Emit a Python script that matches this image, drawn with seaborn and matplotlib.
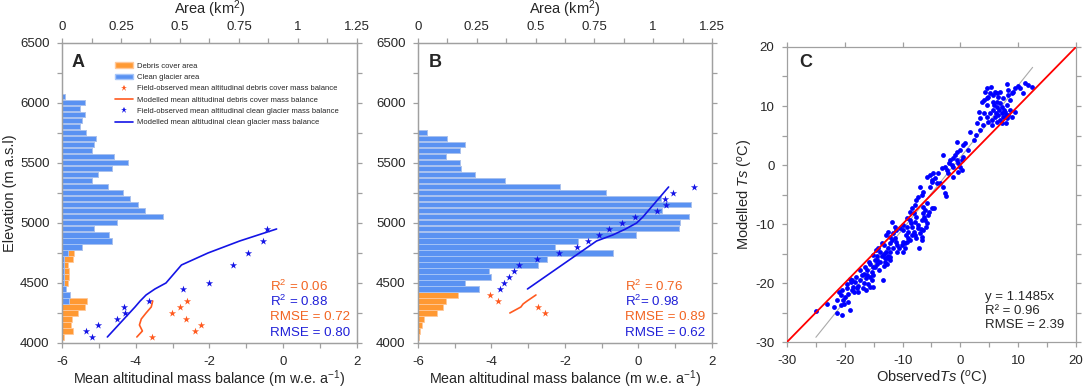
import numpy as np
import pandas as pd
import matplotlib
matplotlib.use("Agg")
import matplotlib.pyplot as plt
import seaborn as sns
from matplotlib.lines import Line2D
from matplotlib.patches import Patch

sns.set_theme(style="white")
plt.rcParams['font.family'] = ['Liberation Sans', 'DejaVu Sans']
plt.rcParams['mathtext.fontset'] = 'custom'
plt.rcParams['mathtext.rm'] = 'Liberation Sans'
plt.rcParams['mathtext.it'] = 'Liberation Sans:italic'
plt.rcParams['mathtext.bf'] = 'Liberation Sans:bold'
plt.rcParams['axes.unicode_minus'] = False

# --- panel A : elevation bands (m) and areas (km2)
elev_a = list(range(4050, 6051, 50))
clean_a = [0, 0, 0, 0, 0, 0,
           0.028, 0.032, 0.018, 0.007, 0.008, 0.008, 0.008, 0.007, 0.025,
           0.083, 0.213, 0.201, 0.137, 0.233,
           0.428, 0.353, 0.323, 0.288, 0.260,
           0.194, 0.126, 0.154, 0.210, 0.281,
           0.222, 0.127, 0.134, 0.145, 0.103,
           0.075, 0.085, 0.099, 0.075, 0.099, 0.014]
debris_a = [0.007, 0.047, 0.037, 0.041, 0.066, 0.099,
            0.078, 0.003, 0.0, 0.017, 0.020, 0.023, 0.017, 0.041, 0.026] + [0] * 26

obs_clean_elev_a = [4950, 4850, 4750, 4650, 4500, 4450, 4350, 4300, 4250, 4200, 4150, 4100, 4050]
obs_clean_mb_a = [-0.45, -0.54, -0.95, -1.36, -2.01, -2.73, -3.64, -4.31, -4.28, -4.51, -5.02, -5.34, -5.20]
obs_debris_elev_a = [4350, 4300, 4250, 4200, 4150, 4100, 4050]
obs_debris_mb_a = [-2.60, -2.81, -3.02, -2.63, -2.22, -2.39, -3.57]
mod_clean_elev_a = [4050, 4300, 4350, 4400, 4450, 4500, 4650, 4750, 4850, 4950]
mod_clean_mb_a = [-4.77, -4.02, -3.88, -3.72, -3.48, -3.18, -2.76, -2.04, -1.18, -0.18]
mod_debris_elev_a = [4050, 4100, 4150, 4200, 4250, 4300, 4350]
mod_debris_mb_a = [-3.97, -3.82, -3.90, -3.85, -3.72, -3.58, -3.54]

# --- panel B
elev_b = list(range(4050, 5751, 50))
clean_b = [0] * 8 + [0.260, 0.200, 0.310, 0.303, 0.511,
                     0.548, 0.831, 0.582, 0.682, 0.928,
                     1.111, 1.115, 1.151, 1.037, 1.159,
                     1.034, 0.798, 0.602, 0.372, 0.241,
                     0.182, 0.178, 0.118, 0.178, 0.199,
                     0.125, 0.040]
debris_b = [0.006, 0.007, 0.018, 0.027, 0.080, 0.107, 0.119, 0.172] + [0] * 27

obs_clean_elev_b = [5300, 5250, 5200, 5150, 5100, 5050, 5000, 4950, 4900, 4850,
                    4800, 4750, 4700, 4650, 4600, 4550, 4500, 4450]
obs_clean_mb_b = [1.51, 0.94, 0.72, 0.75, 0.50, -0.09, -0.44, -0.80, -1.07, -1.38,
                  -1.68, -2.16, -2.77, -3.26, -3.39, -3.53, -3.66, -3.78]
obs_debris_elev_b = [4400, 4350, 4300, 4250]
obs_debris_mb_b = [-4.04, -3.82, -2.74, -2.55]
mod_clean_elev_b = [4450, 4850, 4900, 4950, 5000, 5050, 5300]
mod_clean_mb_b = [-3.02, -1.14, -0.70, -0.35, -0.05, 0.12, 0.82]
mod_debris_elev_b = [4250, 4300, 4325, 4350, 4400]
mod_debris_mb_b = [-3.50, -3.20, -3.14, -3.03, -2.79]

stats_a = ["R$^2$ = 0.06", "R$^2$ = 0.88", "RMSE = 0.72", "RMSE = 0.80"]
stats_b = ["R$^2$ = 0.76", "R$^2$= 0.98", "RMSE = 0.89", "RMSE = 0.62"]

# --- panel C : observed vs modelled surface temperature (degC)
obs_ts = [-25.0, -23.0, -21.9, -21.35, -20.4, -20.7, -20.1, -19.1, -21.0, -20.5, -20.7, -20.0, -19.4,
          -19.6, -19.1, -18.7, -18.2, -18.5, -17.9, -18.8, -18.4, -17.7, -17.4, -17.1, -17.4, -16.7,
          -16.3, -15.6, -15.35, -15.9, -16.3, -16.9, -16.2, -15.6, -15.2, -15.35, -15.75, -14.8, -14.5,
          -14.4, -14.0, -13.45, -13.9, -13.6, -13.2, -12.8, -13.05, -12.5, -12.2, -12.75, -13.3, -14.6,
          -14.2, -13.6, -13.3, -13.9, -12.5, -12.2, -11.9, -11.3, -11.0, -10.7, -10.9, -9.9, -9.6, -10.0,
          -9.4, -9.0, -8.7, -9.2, -8.4, -8.1, -7.9, -7.6, -7.0, -6.7, -6.4, -7.1, -7.3, -8.4, -8.8, -9.3,
          -9.9, -10.45, -11.1, -11.6, -12.2, -12.6, -12.9, -11.9, -11.3, -8.7, -8.3, -7.85, -7.6, -7.3,
          -6.7, -7.0, -6.4, -8.0, -7.6, -6.7, -6.1, -5.8, -5.55, -5.4, -4.97, -4.6, -6.1, -6.5, -5.8,
          -5.26, -4.97, -4.1, -3.5, -2.95, -2.7, -2.5,
          -5.84, -5.26, -4.97, -4.4, -3.24, -2.66, -2.38, -1.8, -1.34, -0.93, -0.65, -0.36, -0.07, 0.22,
          0.51, -0.07, -0.65, -2.95, -2.09, -1.22, -0.36, 0.22, -1.22, -1.9, -0.53, 0.8, 1.66, 2.35, 2.81,
          3.39, 3.28, 3.68, 4.08, 4.54, 4.66, 5.24, 5.12, 5.7, 5.99, 6.27, 6.85, 6.56, 5.58, 6.85, 6.27,
          5.7, 5.12, 4.54, 4.83, 5.41, 5.99, 6.56, 7.14, 7.43, 7.89, 8.0, 6.85, 6.27, 5.41, 8.58, 8.0,
          9.45, 7.43, 8.29, 8.87, 9.16, 9.45, 8.0, 10.02, 10.31, 10.77, 11.18, 11.75, 12.33, 8.58, 7.89,
          7.14, 7.54, 8.29,
          -18.93, -18.06, -17.66, -19.68, -20.25, -19.39, -21.41, -16.5, -16.1, -15.06, -14.77, -15.06,
          -14.37, -13.04, -12.64, -12.18, -11.6, -10.16, -9.58, -9.01, -9.87, -9.3, -8.6, -7.85, -7.28,
          -6.87, -6.3, -6.53, -5.95, -6.7, -12.18, -11.14, -15.06, -15.64, -16.68,
          4.26, 4.83, 5.81, 6.39, 7.14, 6.74, 6.16, 7.72, 8.29, 8.87, 4.66, 4.08, 3.39, 3.97, 2.7, 1.37,
          0.39, -1.51, -3.82, -4.68]
mod_ts = [-24.7, -23.5, -24.1, -25.0, -25.5, -23.8, -23.6, -24.6, -21.5, -21.2, -22.0, -22.4, -21.8,
          -20.2, -19.3, -19.5, -19.9, -20.6, -20.9, -21.2, -21.5, -20.5, -19.5, -18.6, -17.8, -18.4,
          -19.2, -18.9, -19.5, -20.1, -21.2, -20.9, -17.8, -16.7, -17.3, -18.1, -16.4, -16.1, -15.5,
          -16.7, -17.8, -19.5, -16.4, -15.5, -15.0, -14.7, -15.8, -15.4, -16.1, -16.7, -17.2, -14.4,
          -14.1, -13.3, -13.6, -14.7, -14.1, -13.3, -12.7, -12.4, -13.6, -14.1, -14.7, -14.7, -14.1, -13.0,
          -11.9, -12.4, -12.7, -13.0, -11.9, -11.3, -11.9, -12.4, -11.6, -12.2, -11.0, -14.1, -10.7, -10.5,
          -9.3, -8.9, -10.2, -10.7, -11.0, -11.6, -12.2, -11.3, -11.9, -9.6, -10.5, -7.9, -7.3, -6.8, -5.9,
          -5.4, -5.1, -3.7, -4.5, -8.2, -8.8, -9.3, -9.3, -9.9, -8.5, -7.9, -7.3, -7.3, -7.6, -7.1, -6.5,
          -3.7, -2.8, -3.0, -3.1, -3.7, -4.8, -5.3,
          -1.97, -1.69, -2.54, -2.26, -0.56, -0.28, -0.84, 0.85, 1.13, 1.70, 0.85, 0.29, -0.28, 0.85,
          1.42, 2.55, 2.26, 1.70, -1.41, -1.97, -1.13, -0.84, -0.28, 0.29, 3.96, 3.68, 5.65, 4.24, 7.07,
          5.94, 9.04, 10.74, 11.02, 11.3, 13.0, 13.17, 12.15, 11.87, 12.43, 12.15, 12.43, 11.59, 10.74,
          10.46, 9.89, 9.33, 8.76, 8.2, 7.35, 7.63, 8.2, 8.48, 8.76, 8.2, 8.48, 7.91, 7.63, 7.35, 6.78,
          9.33, 10.17, 9.04, 11.3, 12.72, 12.15, 12.43, 13.0, 13.73, 13.4, 13.0, 12.15, 13.96, 13.56,
          13.28, 11.02, 7.07, 7.07, 9.33, 11.87,
          -19.77, -18.92, -21.47, -20.9, -22.88, -23.16, -22.88, -17.23, -18.64, -18.64, -17.23, -15.25,
          -16.1, -16.38, -15.82, -14.69, -14.12, -13.56, -13.27, -11.3, -11.01, -10.45, -9.88, -9.6, -10.17,
          -10.9, -8.75, -8.19, -10.45, -12.71, -15.53, -12.99, -20.62, -20.62, -20.05,
          12.43, 11.59, 10.17, 10.74, 9.89, 9.33, 8.76, 9.04, 8.48, 8.2, 10.17, 8.76, 7.91, 6.78, 5.09, 2.55,
          3.39, 0.0, -1.41, -1.41]
one_to_one = [-30, 20]
trend_x = [-25, 12.5]
trend_slope, trend_icpt = 1.22, 1.3
stats_c = ["y = 1.1485x", "R\u00b2 = 0.96", "RMSE = 2.39"]

bar_orange = '#FF9933'
bar_blue = '#5A92F2'
pt_orange = '#FF5A1F'
pt_blue = '#1414E6'
txt_orange = '#F26522'
txt_blue = '#2020D8'
grey = '#A0A0A0'

fig = plt.figure(figsize=(10.84, 3.91), dpi=100)
ax_a = fig.add_axes([0.0572, 0.1228, 0.2721, 0.7673])
ax_b = fig.add_axes([0.3856, 0.1228, 0.2712, 0.7673])
ax_c = fig.add_axes([0.726, 0.1253, 0.2666, 0.7545])


def style_spines(ax):
    for s in ax.spines.values():
        s.set_color(grey)
        s.set_linewidth(0.9)


def mass_balance_panel(ax, elev, clean, debris, obs_d, obs_c, mod_d, mod_c, stats, letter, lx):
    axt = ax.twiny()
    df = pd.DataFrame({'elev': elev, 'clean': clean, 'debris': debris})
    df['total'] = df['clean'] + df['debris']
    d1 = df[df['total'] > 0]
    d2 = df[df['clean'] > 0]
    sns.barplot(data=d1, x='total', y='elev', orient='y', native_scale=True, width=0.84,
                color=bar_orange, saturation=1, edgecolor='#FFC89A', linewidth=0.6,
                errorbar=None, ax=axt)
    sns.barplot(data=d2, x='clean', y='elev', orient='y', native_scale=True, width=0.84,
                color=bar_blue, saturation=1, edgecolor='#A8C6F8', linewidth=0.6,
                errorbar=None, ax=axt)
    axt.set_xlim(0, 1.25)
    axt.set_xticks(np.arange(0, 1.26, 0.25))
    axt.set_xticklabels(['0', '0.25', '0.5', '0.75', '1', '1.25'])
    axt.set_xticks(np.arange(0, 1.26, 0.125), minor=True)
    axt.set_xlabel('Area (km$^2$)', fontsize=10.5, labelpad=5)
    axt.set_ylabel('')
    axt.tick_params(axis='x', which='both', direction='out', length=3.5, width=0.9,
                    color=grey, labelsize=9.5, pad=3.5)

    ax.set_zorder(axt.get_zorder() + 1)
    ax.patch.set_visible(False)

    sns.lineplot(x=mod_d[1], y=mod_d[0], sort=False, estimator=None, color=pt_orange, lw=1.2, ax=ax)
    sns.lineplot(x=mod_c[1], y=mod_c[0], sort=False, estimator=None, color=pt_blue, lw=1.2, ax=ax)
    sns.scatterplot(x=obs_d[1], y=obs_d[0], marker='*', s=30, color=pt_orange, linewidth=0, ax=ax)
    sns.scatterplot(x=obs_c[1], y=obs_c[0], marker='*', s=30, color=pt_blue, linewidth=0, ax=ax)

    ax.set_xlim(-6, 2)
    ax.set_ylim(4000, 6500)
    axt.set_ylim(4000, 6500)
    ax.set_xticks([-6, -4, -2, 0, 2])
    ax.set_xticks(np.arange(-6, 2.1, 1), minor=True)
    ax.set_yticks(np.arange(4000, 6501, 500))
    ax.set_yticks(np.arange(4000, 6501, 250), minor=True)
    ax.tick_params(which='both', direction='out', length=3.5, width=0.9, color=grey,
                   labelsize=9.5, left=True, right=True, bottom=True)
    ax.tick_params(axis='x', pad=6)
    ax.tick_params(axis='y', pad=5.5)
    ax.set_xlabel('Mean altitudinal mass balance (m w.e. a$^{-1}$)', fontsize=10.3, labelpad=0.5)
    style_spines(ax)
    style_spines(axt)

    cols = [txt_orange, txt_blue, txt_orange, txt_blue]
    for i, (txt, c) in enumerate(zip(stats, cols)):
        ax.text(0.705, 0.19 - i * 0.052, txt, color=c, fontsize=9.6, va='center',
                transform=ax.transAxes)
    ax.text(lx, 0.935, letter, fontsize=13, fontweight='bold', va='center',
            transform=ax.transAxes)
    return axt


mass_balance_panel(ax_a, elev_a, clean_a, debris_a,
                   (obs_debris_elev_a, obs_debris_mb_a), (obs_clean_elev_a, obs_clean_mb_a),
                   (mod_debris_elev_a, mod_debris_mb_a), (mod_clean_elev_a, mod_clean_mb_a),
                   stats_a, 'A', 0.034)
mass_balance_panel(ax_b, elev_b, clean_b, debris_b,
                   (obs_debris_elev_b, obs_debris_mb_b), (obs_clean_elev_b, obs_clean_mb_b),
                   (mod_debris_elev_b, mod_debris_mb_b), (mod_clean_elev_b, mod_clean_mb_b),
                   stats_b, 'B', 0.037)
ax_a.set_ylabel('Elevation (m a.s.l)', fontsize=10.5, labelpad=2)

handles = [
    Patch(facecolor=bar_orange, edgecolor='#FFC89A', label='Debris cover area'),
    Patch(facecolor=bar_blue, edgecolor='#A8C6F8', label='Clean glacier area'),
    Line2D([], [], ls='none', marker='*', ms=5, color=pt_orange, mew=0,
           label='Field-observed mean altitudinal debris cover mass balance'),
    Line2D([], [], color=pt_orange, lw=1.2, label='Modelled mean altitudinal debris cover mass balance'),
    Line2D([], [], ls='none', marker='*', ms=5, color=pt_blue, mew=0,
           label='Field-observed mean altitudinal clean glacier mass balance'),
    Line2D([], [], color=pt_blue, lw=1.2, label='Modelled mean altitudinal clean glacier mass balance'),
]
ax_a.legend(handles=handles, loc='upper left', bbox_to_anchor=(0.18, 0.935), frameon=False,
            fontsize=5.5, handlelength=2.4, handletextpad=0.5, labelspacing=0.52,
            borderaxespad=0, borderpad=0)

# --- panel C
sns.lineplot(x=trend_x, y=[trend_slope * v + trend_icpt for v in trend_x], color='#AAAAAA',
             lw=0.8, ax=ax_c)
sns.scatterplot(x=obs_ts, y=mod_ts, color='#0000FF', s=12, linewidth=0, ax=ax_c, zorder=3)
sns.lineplot(x=one_to_one, y=one_to_one, color='#FF0000', lw=1.3, ax=ax_c, zorder=4)
ax_c.set_xlim(-30, 20)
ax_c.set_ylim(-30, 20)
ax_c.set_xticks(np.arange(-30, 21, 10))
ax_c.set_xticks(np.arange(-30, 21, 5), minor=True)
ax_c.set_yticks(np.arange(-30, 21, 10))
ax_c.set_yticks(np.arange(-30, 21, 5), minor=True)
ax_c.tick_params(which='both', direction='out', length=3.5, width=0.9, color=grey,
                 labelsize=9.5, left=True, right=True, bottom=True)
ax_c.tick_params(axis='x', pad=6)
ax_c.tick_params(axis='y', pad=5.5)
ax_c.tick_params(axis='x', which='major', top=True)
ax_c.tick_params(axis='x', which='minor', top=False)
style_spines(ax_c)
ax_c.set_xlabel('Observed$\\mathit{Ts}$ ($^{o}$C)', fontsize=10.5, labelpad=1)
ax_c.set_ylabel('Modelled $\\mathit{Ts}$ ($^{o}$C)', fontsize=10.5, labelpad=0)
for i, txt in enumerate(stats_c):
    ax_c.text(0.685, 0.154 - i * 0.048, txt, fontsize=9.5, va='center', transform=ax_c.transAxes)
ax_c.text(0.042, 0.949, 'C', fontsize=13, fontweight='bold', va='center', transform=ax_c.transAxes)

fig.savefig('out.png', dpi=100)
